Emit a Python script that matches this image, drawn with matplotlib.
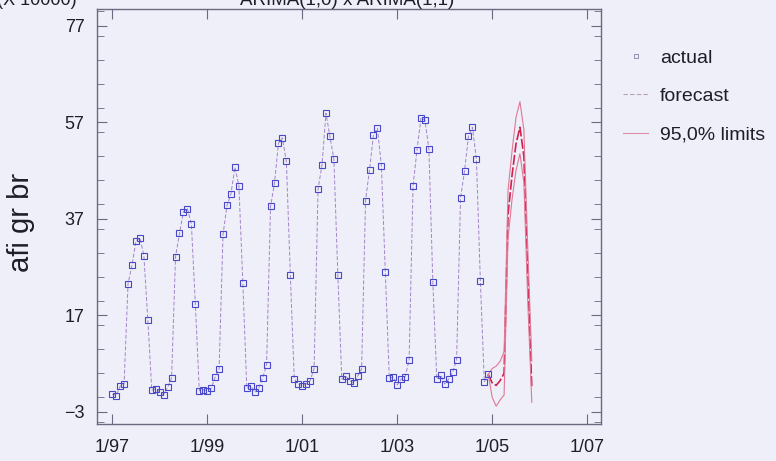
import numpy as np
import matplotlib.pyplot as plt
from matplotlib.lines import Line2D
from matplotlib.ticker import MultipleLocator

plt.rcParams['font.family'] = ['Liberation Sans', 'DejaVu Sans']

# 月度实际值 1/97 - 12/04 (x 10000)
years = [1997, 1998, 1999, 2000, 2001, 2002, 2003, 2004]
actual_by_year = [
    [0.7, 0.4, 2.3, 2.8, 23.6, 27.4, 32.4, 33.1, 29.4, 16.1, 1.5, 1.8],
    [1.1, 0.6, 2.1, 4.0, 29.2, 34.0, 38.5, 39.1, 36.0, 19.4, 1.4, 1.6],
    [1.4, 1.9, 4.2, 5.9, 33.8, 39.8, 42.2, 47.7, 43.9, 23.8, 1.9, 2.4],
    [1.1, 1.9, 4.0, 6.8, 39.6, 44.4, 52.7, 53.8, 48.9, 25.4, 3.8, 2.8],
    [2.4, 2.8, 3.5, 6.0, 43.2, 48.2, 58.9, 54.1, 49.4, 25.4, 3.8, 4.4],
    [3.5, 3.0, 4.4, 5.9, 40.8, 47.2, 54.4, 55.8, 48.0, 25.9, 4.0, 4.2],
    [2.6, 3.8, 4.3, 7.7, 43.8, 51.3, 57.9, 57.5, 51.5, 23.9, 3.8, 4.6],
    [2.8, 3.8, 5.3, 7.7, 41.4, 46.9, 54.1, 56.0, 49.4, 24.2, 3.2, 4.8],
]

# 预测 1/05 - 11/05
fc_year = 2005
forecast = [3.0, 2.5, 3.5, 5.0, 38.0, 46.0, 52.5, 56.0, 50.0, 25.0, 2.0]
upper = [6.0, 6.5, 7.5, 9.5, 43.0, 51.0, 58.0, 61.3, 55.5, 30.5, 7.5]
lower = [0.0, -1.8, -0.5, 0.5, 33.0, 41.0, 47.0, 50.5, 44.5, 19.5, -1.0]

y_ticks = [-3, 17, 37, 57, 77]
x_tick_years = [1997, 1999, 2001, 2003, 2005, 2007]
x_tick_labels = ['1/97', '1/99', '1/01', '1/03', '1/05', '1/07']

bg = '#eeeff8'
ink = '#1e1e28'

# 时间轴（年 + 月/12）
actual = np.concatenate([np.array(v) for v in actual_by_year])
t_act = np.array([y + m / 12 for y in years for m in range(12)])
t_fc = np.array([fc_year + m / 12 for m in range(len(forecast))])

fig = plt.figure(figsize=(7.76, 4.61), dpi=100, facecolor=bg)
ax = fig.add_axes([97 / 776, 1 - 424 / 461, 504 / 776, 415 / 461], facecolor=bg)

# 拟合线（历史段）+ 预测段
ax.plot(t_act, actual, color='#a484c8', lw=0.7, ls=(0, (4, 2)), zorder=2)
ax.plot(np.r_[t_act[-1], t_fc], np.r_[actual[-1], forecast],
        color='#d0204e', lw=1.2, ls=(0, (6, 1.5)), zorder=3)
ax.plot(np.r_[t_act[-1], t_fc], np.r_[actual[-1], upper], color='#e07895', lw=0.8, zorder=3)
ax.plot(np.r_[t_act[-1], t_fc], np.r_[actual[-1], lower], color='#e07895', lw=0.8, zorder=3)
ax.plot(t_act, actual, ls='none', marker='s', ms=4.8, mfc='none', mec='#4848c8', mew=0.8, zorder=4)

ax.set_xlim(1996.68, 2007.29)
ax.set_ylim(-5.5, 80.5)
ax.set_yticks(y_ticks)
ax.yaxis.set_minor_locator(MultipleLocator(5))
ax.set_xticks(x_tick_years)
ax.set_xticklabels(x_tick_labels)

for side in ['left', 'right', 'top', 'bottom']:
    ax.spines[side].set_color('#6a6a80')
    ax.spines[side].set_linewidth(1.0)

ax.tick_params(axis='both', which='both', direction='in', colors='#6a6a80',
               labelcolor=ink, labelsize=13)
ax.tick_params(axis='y', which='major', length=7, right=True, pad=9)
ax.tick_params(axis='y', which='minor', length=5, right=True)
ax.tick_params(axis='x', which='major', length=7, top=True, pad=11)

fig.text(21 / 776, 1 - 222 / 461, 'afi gr br', rotation=90, ha='center', va='center',
         fontsize=21, color=ink)
fig.text(-0.004, 1 - 5 / 461, '(X 10000)', ha='left', va='baseline', fontsize=13, color=ink)
fig.text(347 / 776, 1 - 5 / 461, 'ARIMA(1,0) x ARIMA(1,1)', ha='center', va='baseline',
         fontsize=13.5, color=ink)

handles = [
    Line2D([], [], ls='none', marker='s', ms=3.5, mfc='none', mec='#9090a8', mew=0.7),
    Line2D([], [], color='#b8a0b8', lw=0.8, ls=(0, (4, 2))),
    Line2D([], [], color='#e090a8', lw=0.8),
]
fig.legend(handles, ['actual', 'forecast', '95,0% limits'], loc='upper left',
           bbox_to_anchor=(623 / 776, 1 - 49 / 461), frameon=False, fontsize=14,
           labelcolor=ink, handlelength=1.3, handletextpad=0.6, labelspacing=1.08,
           borderpad=0, borderaxespad=0)

fig.savefig('out.png', dpi=100, facecolor=bg)
